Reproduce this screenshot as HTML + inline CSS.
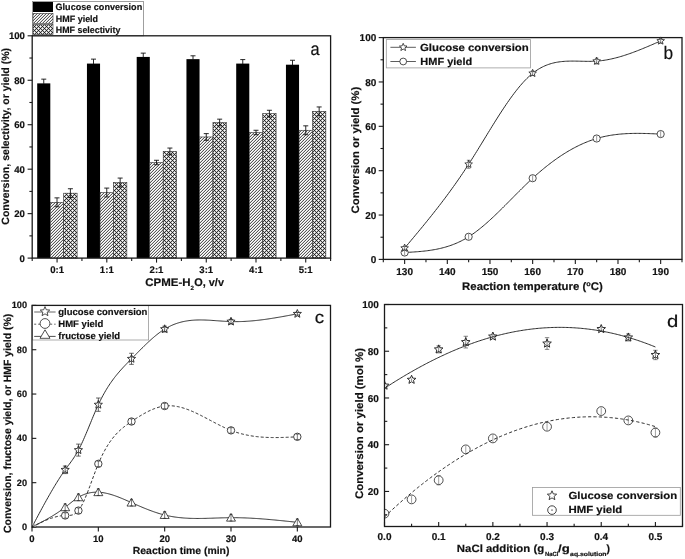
<!DOCTYPE html>
<html><head><meta charset="utf-8"><style>
html,body{margin:0;padding:0;background:#fff;}
svg{display:block;font-family:"Liberation Sans", sans-serif;text-rendering:geometricPrecision;will-change:transform;}
text{fill:#111;stroke:#111;stroke-width:0.18px;}
</style></head><body>
<svg width="685" height="559" viewBox="0 0 685 559">
<defs>
<pattern id="hatch" patternUnits="userSpaceOnUse" width="3" height="3">
<rect width="3" height="3" fill="#fff"/>
<rect x="2" y="0" width="1" height="1" fill="#585858"/><rect x="1" y="1" width="1" height="1" fill="#585858"/><rect x="0" y="2" width="1" height="1" fill="#585858"/>
<rect x="1" y="0" width="1" height="1" fill="#d6d6d6"/><rect x="0" y="1" width="1" height="1" fill="#d6d6d6"/><rect x="2" y="2" width="1" height="1" fill="#d6d6d6"/>
</pattern>
<pattern id="xhatch" patternUnits="userSpaceOnUse" width="4" height="4">
<rect width="4" height="4" fill="#fff"/>
<rect x="0" y="0" width="1" height="1" fill="#1a1a1a"/><rect x="2" y="2" width="1" height="1" fill="#1a1a1a"/>
<rect x="1" y="1" width="1" height="1" fill="#404040"/><rect x="3" y="1" width="1" height="1" fill="#404040"/><rect x="1" y="3" width="1" height="1" fill="#404040"/><rect x="3" y="3" width="1" height="1" fill="#404040"/>
<rect x="1" y="0" width="1" height="1" fill="#c8c8c8"/><rect x="3" y="0" width="1" height="1" fill="#c8c8c8"/><rect x="0" y="1" width="1" height="1" fill="#c8c8c8"/><rect x="0" y="3" width="1" height="1" fill="#c8c8c8"/>
<rect x="1" y="2" width="1" height="1" fill="#c8c8c8"/><rect x="3" y="2" width="1" height="1" fill="#c8c8c8"/><rect x="2" y="1" width="1" height="1" fill="#c8c8c8"/><rect x="2" y="3" width="1" height="1" fill="#c8c8c8"/>
</pattern>
</defs>
<rect width="685" height="559" fill="#fff"/>
<rect x="32.5" y="1.5" width="111" height="34.3" fill="#fff" stroke="#888" stroke-width="0.8"/>
<rect x="37.2" y="83.37" width="13.1" height="174.73" fill="#000"/>
<rect x="50.3" y="202.3" width="13.4" height="55.8" fill="url(#hatch)" stroke="#333" stroke-width="0.6"/>
<rect x="63.7" y="193.19" width="13.4" height="64.91" fill="url(#xhatch)" stroke="#333" stroke-width="0.6"/>
<line x1="43.75" y1="79.15" x2="43.75" y2="83.87" stroke="#111" stroke-width="0.9" />
<line x1="41.25" y1="79.15" x2="46.25" y2="79.15" stroke="#111" stroke-width="0.9" />
<line x1="57" y1="197.86" x2="57" y2="206.75" stroke="#111" stroke-width="0.9" />
<line x1="54.5" y1="197.86" x2="59.5" y2="197.86" stroke="#111" stroke-width="0.9" />
<line x1="54.5" y1="206.75" x2="59.5" y2="206.75" stroke="#111" stroke-width="0.9" />
<line x1="70.4" y1="188.74" x2="70.4" y2="197.63" stroke="#111" stroke-width="0.9" />
<line x1="67.9" y1="188.74" x2="72.9" y2="188.74" stroke="#111" stroke-width="0.9" />
<line x1="67.9" y1="197.63" x2="72.9" y2="197.63" stroke="#111" stroke-width="0.9" />
<rect x="86.95" y="63.59" width="13.1" height="194.51" fill="#000"/>
<rect x="100.05" y="192.52" width="13.4" height="65.58" fill="url(#hatch)" stroke="#333" stroke-width="0.6"/>
<rect x="113.45" y="182.52" width="13.4" height="75.58" fill="url(#xhatch)" stroke="#333" stroke-width="0.6"/>
<line x1="93.5" y1="59.14" x2="93.5" y2="64.09" stroke="#111" stroke-width="0.9" />
<line x1="91" y1="59.14" x2="96" y2="59.14" stroke="#111" stroke-width="0.9" />
<line x1="106.75" y1="188.08" x2="106.75" y2="196.97" stroke="#111" stroke-width="0.9" />
<line x1="104.25" y1="188.08" x2="109.25" y2="188.08" stroke="#111" stroke-width="0.9" />
<line x1="104.25" y1="196.97" x2="109.25" y2="196.97" stroke="#111" stroke-width="0.9" />
<line x1="120.15" y1="178.07" x2="120.15" y2="186.96" stroke="#111" stroke-width="0.9" />
<line x1="117.65" y1="178.07" x2="122.65" y2="178.07" stroke="#111" stroke-width="0.9" />
<line x1="117.65" y1="186.96" x2="122.65" y2="186.96" stroke="#111" stroke-width="0.9" />
<rect x="136.7" y="56.92" width="13.1" height="201.18" fill="#000"/>
<rect x="149.8" y="162.51" width="13.4" height="95.59" fill="url(#hatch)" stroke="#333" stroke-width="0.6"/>
<rect x="163.2" y="151.4" width="13.4" height="106.7" fill="url(#xhatch)" stroke="#333" stroke-width="0.6"/>
<line x1="143.25" y1="53.14" x2="143.25" y2="57.42" stroke="#111" stroke-width="0.9" />
<line x1="140.75" y1="53.14" x2="145.75" y2="53.14" stroke="#111" stroke-width="0.9" />
<line x1="156.5" y1="160.29" x2="156.5" y2="164.73" stroke="#111" stroke-width="0.9" />
<line x1="154" y1="160.29" x2="159" y2="160.29" stroke="#111" stroke-width="0.9" />
<line x1="154" y1="164.73" x2="159" y2="164.73" stroke="#111" stroke-width="0.9" />
<line x1="169.9" y1="148.06" x2="169.9" y2="154.73" stroke="#111" stroke-width="0.9" />
<line x1="167.4" y1="148.06" x2="172.4" y2="148.06" stroke="#111" stroke-width="0.9" />
<line x1="167.4" y1="154.73" x2="172.4" y2="154.73" stroke="#111" stroke-width="0.9" />
<rect x="186.45" y="59.14" width="13.1" height="198.96" fill="#000"/>
<rect x="199.55" y="136.95" width="13.4" height="121.15" fill="url(#hatch)" stroke="#333" stroke-width="0.6"/>
<rect x="212.95" y="122.5" width="13.4" height="135.6" fill="url(#xhatch)" stroke="#333" stroke-width="0.6"/>
<line x1="193" y1="55.81" x2="193" y2="59.64" stroke="#111" stroke-width="0.9" />
<line x1="190.5" y1="55.81" x2="195.5" y2="55.81" stroke="#111" stroke-width="0.9" />
<line x1="206.25" y1="133.61" x2="206.25" y2="140.28" stroke="#111" stroke-width="0.9" />
<line x1="203.75" y1="133.61" x2="208.75" y2="133.61" stroke="#111" stroke-width="0.9" />
<line x1="203.75" y1="140.28" x2="208.75" y2="140.28" stroke="#111" stroke-width="0.9" />
<line x1="219.65" y1="119.16" x2="219.65" y2="125.83" stroke="#111" stroke-width="0.9" />
<line x1="217.15" y1="119.16" x2="222.15" y2="119.16" stroke="#111" stroke-width="0.9" />
<line x1="217.15" y1="125.83" x2="222.15" y2="125.83" stroke="#111" stroke-width="0.9" />
<rect x="236.2" y="63.59" width="13.1" height="194.51" fill="#000"/>
<rect x="249.3" y="132.5" width="13.4" height="125.6" fill="url(#hatch)" stroke="#333" stroke-width="0.6"/>
<rect x="262.7" y="113.61" width="13.4" height="144.5" fill="url(#xhatch)" stroke="#333" stroke-width="0.6"/>
<line x1="242.75" y1="59.59" x2="242.75" y2="64.09" stroke="#111" stroke-width="0.9" />
<line x1="240.25" y1="59.59" x2="245.25" y2="59.59" stroke="#111" stroke-width="0.9" />
<line x1="256" y1="130.28" x2="256" y2="134.72" stroke="#111" stroke-width="0.9" />
<line x1="253.5" y1="130.28" x2="258.5" y2="130.28" stroke="#111" stroke-width="0.9" />
<line x1="253.5" y1="134.72" x2="258.5" y2="134.72" stroke="#111" stroke-width="0.9" />
<line x1="269.4" y1="110.27" x2="269.4" y2="116.94" stroke="#111" stroke-width="0.9" />
<line x1="266.9" y1="110.27" x2="271.9" y2="110.27" stroke="#111" stroke-width="0.9" />
<line x1="266.9" y1="116.94" x2="271.9" y2="116.94" stroke="#111" stroke-width="0.9" />
<rect x="285.95" y="64.7" width="13.1" height="193.4" fill="#000"/>
<rect x="299.05" y="130.28" width="13.4" height="127.82" fill="url(#hatch)" stroke="#333" stroke-width="0.6"/>
<rect x="312.45" y="111.38" width="13.4" height="146.72" fill="url(#xhatch)" stroke="#333" stroke-width="0.6"/>
<line x1="292.5" y1="60.25" x2="292.5" y2="65.2" stroke="#111" stroke-width="0.9" />
<line x1="290" y1="60.25" x2="295" y2="60.25" stroke="#111" stroke-width="0.9" />
<line x1="305.75" y1="125.83" x2="305.75" y2="134.72" stroke="#111" stroke-width="0.9" />
<line x1="303.25" y1="125.83" x2="308.25" y2="125.83" stroke="#111" stroke-width="0.9" />
<line x1="303.25" y1="134.72" x2="308.25" y2="134.72" stroke="#111" stroke-width="0.9" />
<line x1="319.15" y1="106.94" x2="319.15" y2="115.83" stroke="#111" stroke-width="0.9" />
<line x1="316.65" y1="106.94" x2="321.65" y2="106.94" stroke="#111" stroke-width="0.9" />
<line x1="316.65" y1="115.83" x2="321.65" y2="115.83" stroke="#111" stroke-width="0.9" />
<rect x="32.2" y="35.8" width="298.40000000000003" height="222.3" fill="none" stroke="#1a1a1a" stroke-width="1.3"/>
<line x1="27.6" y1="258.1" x2="32.2" y2="258.1" stroke="#1a1a1a" stroke-width="1.1" />
<text x="24.9" y="261.5" font-size="9.6" font-weight="bold" text-anchor="end" >0</text>
<line x1="29.4" y1="235.87" x2="32.2" y2="235.87" stroke="#1a1a1a" stroke-width="1.1" />
<line x1="27.6" y1="213.64" x2="32.2" y2="213.64" stroke="#1a1a1a" stroke-width="1.1" />
<text x="24.9" y="217.04" font-size="9.6" font-weight="bold" text-anchor="end" >20</text>
<line x1="29.4" y1="191.41" x2="32.2" y2="191.41" stroke="#1a1a1a" stroke-width="1.1" />
<line x1="27.6" y1="169.18" x2="32.2" y2="169.18" stroke="#1a1a1a" stroke-width="1.1" />
<text x="24.9" y="172.58" font-size="9.6" font-weight="bold" text-anchor="end" >40</text>
<line x1="29.4" y1="146.95" x2="32.2" y2="146.95" stroke="#1a1a1a" stroke-width="1.1" />
<line x1="27.6" y1="124.72" x2="32.2" y2="124.72" stroke="#1a1a1a" stroke-width="1.1" />
<text x="24.9" y="128.12" font-size="9.6" font-weight="bold" text-anchor="end" >60</text>
<line x1="29.4" y1="102.49" x2="32.2" y2="102.49" stroke="#1a1a1a" stroke-width="1.1" />
<line x1="27.6" y1="80.26" x2="32.2" y2="80.26" stroke="#1a1a1a" stroke-width="1.1" />
<text x="24.9" y="83.66" font-size="9.6" font-weight="bold" text-anchor="end" >80</text>
<line x1="29.4" y1="58.03" x2="32.2" y2="58.03" stroke="#1a1a1a" stroke-width="1.1" />
<line x1="27.6" y1="35.8" x2="32.2" y2="35.8" stroke="#1a1a1a" stroke-width="1.1" />
<text x="24.9" y="39.2" font-size="9.6" font-weight="bold" text-anchor="end" >100</text>
<line x1="32.2" y1="258.1" x2="32.2" y2="260.9" stroke="#1a1a1a" stroke-width="1.1" />
<line x1="81.93" y1="258.1" x2="81.93" y2="260.9" stroke="#1a1a1a" stroke-width="1.1" />
<line x1="131.67" y1="258.1" x2="131.67" y2="260.9" stroke="#1a1a1a" stroke-width="1.1" />
<line x1="181.4" y1="258.1" x2="181.4" y2="260.9" stroke="#1a1a1a" stroke-width="1.1" />
<line x1="231.13" y1="258.1" x2="231.13" y2="260.9" stroke="#1a1a1a" stroke-width="1.1" />
<line x1="280.87" y1="258.1" x2="280.87" y2="260.9" stroke="#1a1a1a" stroke-width="1.1" />
<line x1="330.6" y1="258.1" x2="330.6" y2="260.9" stroke="#1a1a1a" stroke-width="1.1" />
<line x1="57.07" y1="258.1" x2="57.07" y2="262.6" stroke="#1a1a1a" stroke-width="1.1" />
<text x="57.07" y="272.9" font-size="9.6" font-weight="bold" text-anchor="middle" >0:1</text>
<line x1="106.8" y1="258.1" x2="106.8" y2="262.6" stroke="#1a1a1a" stroke-width="1.1" />
<text x="106.8" y="272.9" font-size="9.6" font-weight="bold" text-anchor="middle" >1:1</text>
<line x1="156.53" y1="258.1" x2="156.53" y2="262.6" stroke="#1a1a1a" stroke-width="1.1" />
<text x="156.53" y="272.9" font-size="9.6" font-weight="bold" text-anchor="middle" >2:1</text>
<line x1="206.27" y1="258.1" x2="206.27" y2="262.6" stroke="#1a1a1a" stroke-width="1.1" />
<text x="206.27" y="272.9" font-size="9.6" font-weight="bold" text-anchor="middle" >3:1</text>
<line x1="256" y1="258.1" x2="256" y2="262.6" stroke="#1a1a1a" stroke-width="1.1" />
<text x="256" y="272.9" font-size="9.6" font-weight="bold" text-anchor="middle" >4:1</text>
<line x1="305.73" y1="258.1" x2="305.73" y2="262.6" stroke="#1a1a1a" stroke-width="1.1" />
<text x="305.73" y="272.9" font-size="9.6" font-weight="bold" text-anchor="middle" >5:1</text>
<text id="t1" transform="translate(145.26,285.7) scale(1.0424,1)" font-size="11" font-weight="bold" fill="#111">CPME-H</text>
<text id="t2" transform="translate(190.6,289.7) scale(1.0000,1)" font-size="6.2" font-weight="bold" fill="#111">2</text>
<text id="t3" transform="translate(194.27,285.7) scale(0.9906,1)" font-size="11" font-weight="bold" fill="#111">O, v/v</text>
<text id="t4" transform="translate(9.4,224.72) rotate(-90) scale(1.0046,1)" font-size="10.5" font-weight="bold" fill="#111">Conversion, selectivity, or yield (%)</text>
<text id="t5" transform="translate(310.41,55) scale(0.9073,1)" font-size="18" font-weight="normal" fill="#111">a</text>
<rect x="33" y="2" width="20" height="10" fill="#000"/>
<rect x="33" y="13.3" width="20" height="10" fill="url(#hatch)" stroke="#333" stroke-width="0.6"/>
<rect x="33" y="24.6" width="20" height="10" fill="url(#xhatch)" stroke="#333" stroke-width="0.6"/>
<text id="t6" transform="translate(55.53,10.2) scale(0.9868,1)" font-size="9.2" font-weight="bold" fill="#111">Glucose conversion</text>
<text id="t7" transform="translate(55.83,21.6) scale(0.9734,1)" font-size="9.2" font-weight="bold" fill="#111">HMF yield</text>
<text id="t8" transform="translate(55.83,32.6) scale(0.9639,1)" font-size="9.2" font-weight="bold" fill="#111">HMF selectivity</text>
<rect x="383.3" y="37.6" width="298.7" height="221.8" fill="none" stroke="#1a1a1a" stroke-width="1.3"/>
<line x1="378.7" y1="259.4" x2="383.3" y2="259.4" stroke="#1a1a1a" stroke-width="1.1" />
<text x="376.3" y="263.2" font-size="10" font-weight="bold" text-anchor="end" >0</text>
<line x1="380.5" y1="237.22" x2="383.3" y2="237.22" stroke="#1a1a1a" stroke-width="1.1" />
<line x1="378.7" y1="215.04" x2="383.3" y2="215.04" stroke="#1a1a1a" stroke-width="1.1" />
<text x="376.3" y="218.84" font-size="10" font-weight="bold" text-anchor="end" >20</text>
<line x1="380.5" y1="192.86" x2="383.3" y2="192.86" stroke="#1a1a1a" stroke-width="1.1" />
<line x1="378.7" y1="170.68" x2="383.3" y2="170.68" stroke="#1a1a1a" stroke-width="1.1" />
<text x="376.3" y="174.48" font-size="10" font-weight="bold" text-anchor="end" >40</text>
<line x1="380.5" y1="148.5" x2="383.3" y2="148.5" stroke="#1a1a1a" stroke-width="1.1" />
<line x1="378.7" y1="126.32" x2="383.3" y2="126.32" stroke="#1a1a1a" stroke-width="1.1" />
<text x="376.3" y="130.12" font-size="10" font-weight="bold" text-anchor="end" >60</text>
<line x1="380.5" y1="104.14" x2="383.3" y2="104.14" stroke="#1a1a1a" stroke-width="1.1" />
<line x1="378.7" y1="81.96" x2="383.3" y2="81.96" stroke="#1a1a1a" stroke-width="1.1" />
<text x="376.3" y="85.76" font-size="10" font-weight="bold" text-anchor="end" >80</text>
<line x1="380.5" y1="59.78" x2="383.3" y2="59.78" stroke="#1a1a1a" stroke-width="1.1" />
<line x1="378.7" y1="37.6" x2="383.3" y2="37.6" stroke="#1a1a1a" stroke-width="1.1" />
<text x="376.3" y="41.4" font-size="10" font-weight="bold" text-anchor="end" >100</text>
<line x1="383.3" y1="259.4" x2="383.3" y2="262.2" stroke="#1a1a1a" stroke-width="1.1" />
<line x1="404.64" y1="259.4" x2="404.64" y2="263.9" stroke="#1a1a1a" stroke-width="1.1" />
<text x="404.64" y="274.8" font-size="10" font-weight="bold" text-anchor="middle" >130</text>
<line x1="425.97" y1="259.4" x2="425.97" y2="262.2" stroke="#1a1a1a" stroke-width="1.1" />
<line x1="447.31" y1="259.4" x2="447.31" y2="263.9" stroke="#1a1a1a" stroke-width="1.1" />
<text x="447.31" y="274.8" font-size="10" font-weight="bold" text-anchor="middle" >140</text>
<line x1="468.64" y1="259.4" x2="468.64" y2="262.2" stroke="#1a1a1a" stroke-width="1.1" />
<line x1="489.98" y1="259.4" x2="489.98" y2="263.9" stroke="#1a1a1a" stroke-width="1.1" />
<text x="489.98" y="274.8" font-size="10" font-weight="bold" text-anchor="middle" >150</text>
<line x1="511.31" y1="259.4" x2="511.31" y2="262.2" stroke="#1a1a1a" stroke-width="1.1" />
<line x1="532.65" y1="259.4" x2="532.65" y2="263.9" stroke="#1a1a1a" stroke-width="1.1" />
<text x="532.65" y="274.8" font-size="10" font-weight="bold" text-anchor="middle" >160</text>
<line x1="553.99" y1="259.4" x2="553.99" y2="262.2" stroke="#1a1a1a" stroke-width="1.1" />
<line x1="575.32" y1="259.4" x2="575.32" y2="263.9" stroke="#1a1a1a" stroke-width="1.1" />
<text x="575.32" y="274.8" font-size="10" font-weight="bold" text-anchor="middle" >170</text>
<line x1="596.66" y1="259.4" x2="596.66" y2="262.2" stroke="#1a1a1a" stroke-width="1.1" />
<line x1="617.99" y1="259.4" x2="617.99" y2="263.9" stroke="#1a1a1a" stroke-width="1.1" />
<text x="617.99" y="274.8" font-size="10" font-weight="bold" text-anchor="middle" >180</text>
<line x1="639.33" y1="259.4" x2="639.33" y2="262.2" stroke="#1a1a1a" stroke-width="1.1" />
<line x1="660.66" y1="259.4" x2="660.66" y2="263.9" stroke="#1a1a1a" stroke-width="1.1" />
<text x="660.66" y="274.8" font-size="10" font-weight="bold" text-anchor="middle" >190</text>
<line x1="682" y1="259.4" x2="682" y2="262.2" stroke="#1a1a1a" stroke-width="1.1" />
<text id="t9" transform="translate(462.06,290.3) scale(1.0364,1)" font-size="11" font-weight="bold" fill="#111">Reaction temperature (<tspan font-size="7" dy="-4">o</tspan><tspan dy="4">C)</tspan></text>
<text id="t10" transform="translate(359.4,213.44) rotate(-90) scale(1.0503,1)" font-size="10.8" font-weight="bold" fill="#111">Conversion or yield (%)</text>
<text id="t11" transform="translate(663.38,58.7) scale(0.9624,1)" font-size="18" font-weight="normal" fill="#111">b</text>
<path d="M404.64,248.09 L405.92,246.56 L407.21,245.03 L408.50,243.49 L409.78,241.96 L411.07,240.42 L412.36,238.89 L413.64,237.35 L414.93,235.81 L416.21,234.26 L417.50,232.71 L418.79,231.16 L420.07,229.61 L421.36,228.05 L422.65,226.48 L423.93,224.91 L425.22,223.34 L426.51,221.75 L427.79,220.17 L429.08,218.57 L430.37,216.97 L431.65,215.36 L432.94,213.74 L434.23,212.12 L435.51,210.48 L436.80,208.84 L438.09,207.18 L439.37,205.52 L440.66,203.85 L441.95,202.17 L443.23,200.47 L444.52,198.77 L445.81,197.05 L447.09,195.32 L448.38,193.58 L449.67,191.83 L450.95,190.06 L452.24,188.28 L453.53,186.49 L454.81,184.68 L456.10,182.86 L457.39,181.02 L458.67,179.17 L459.96,177.30 L461.25,175.41 L462.53,173.51 L463.82,171.60 L465.10,169.66 L466.39,167.71 L467.68,165.74 L468.96,163.75 L470.25,161.74 L471.54,159.72 L472.82,157.68 L474.11,155.63 L475.40,153.56 L476.68,151.49 L477.97,149.40 L479.26,147.31 L480.54,145.21 L481.83,143.11 L483.12,141.01 L484.40,138.90 L485.69,136.79 L486.98,134.69 L488.26,132.59 L489.55,130.49 L490.84,128.40 L492.12,126.31 L493.41,124.24 L494.70,122.18 L495.98,120.12 L497.27,118.09 L498.56,116.06 L499.84,114.06 L501.13,112.07 L502.42,110.10 L503.70,108.16 L504.99,106.23 L506.28,104.34 L507.56,102.46 L508.85,100.62 L510.13,98.80 L511.42,97.02 L512.71,95.26 L513.99,93.54 L515.28,91.86 L516.57,90.21 L517.85,88.60 L519.14,87.03 L520.43,85.50 L521.71,84.01 L523.00,82.57 L524.29,81.17 L525.57,79.82 L526.86,78.52 L528.15,77.27 L529.43,76.07 L530.72,74.92 L532.01,73.83 L533.29,72.80 L534.58,71.82 L535.87,70.90 L537.15,70.03 L538.44,69.21 L539.73,68.44 L541.01,67.72 L542.30,67.05 L543.59,66.43 L544.87,65.84 L546.16,65.30 L547.45,64.81 L548.73,64.35 L550.02,63.93 L551.31,63.54 L552.59,63.19 L553.88,62.87 L555.17,62.59 L556.45,62.34 L557.74,62.11 L559.02,61.91 L560.31,61.74 L561.60,61.59 L562.88,61.47 L564.17,61.36 L565.46,61.28 L566.74,61.21 L568.03,61.16 L569.32,61.13 L570.60,61.10 L571.89,61.09 L573.18,61.09 L574.46,61.10 L575.75,61.12 L577.04,61.14 L578.32,61.17 L579.61,61.20 L580.90,61.23 L582.18,61.26 L583.47,61.29 L584.76,61.31 L586.04,61.33 L587.33,61.35 L588.62,61.35 L589.90,61.35 L591.19,61.33 L592.48,61.31 L593.76,61.26 L595.05,61.21 L596.34,61.13 L597.62,61.04 L598.91,60.93 L600.20,60.80 L601.48,60.65 L602.77,60.48 L604.05,60.30 L605.34,60.10 L606.63,59.88 L607.91,59.65 L609.20,59.40 L610.49,59.13 L611.77,58.85 L613.06,58.56 L614.35,58.25 L615.63,57.93 L616.92,57.59 L618.21,57.25 L619.49,56.88 L620.78,56.51 L622.07,56.13 L623.35,55.73 L624.64,55.32 L625.93,54.90 L627.21,54.47 L628.50,54.03 L629.79,53.58 L631.07,53.13 L632.36,52.66 L633.65,52.18 L634.93,51.70 L636.22,51.21 L637.51,50.71 L638.79,50.21 L640.08,49.69 L641.37,49.18 L642.65,48.65 L643.94,48.12 L645.23,47.59 L646.51,47.05 L647.80,46.51 L649.09,45.96 L650.37,45.41 L651.66,44.86 L652.94,44.30 L654.23,43.74 L655.52,43.18 L656.80,42.62 L658.09,42.06 L659.38,41.49 L660.66,40.93" fill="none" stroke="#2a2a2a" stroke-width="1.0"/>
<path d="M404.64,252.52 L405.92,252.45 L407.21,252.38 L408.50,252.31 L409.78,252.23 L411.07,252.15 L412.36,252.07 L413.64,251.99 L414.93,251.90 L416.21,251.81 L417.50,251.71 L418.79,251.60 L420.07,251.49 L421.36,251.38 L422.65,251.25 L423.93,251.12 L425.22,250.97 L426.51,250.82 L427.79,250.66 L429.08,250.48 L430.37,250.30 L431.65,250.10 L432.94,249.89 L434.23,249.67 L435.51,249.44 L436.80,249.19 L438.09,248.92 L439.37,248.64 L440.66,248.35 L441.95,248.03 L443.23,247.70 L444.52,247.36 L445.81,246.99 L447.09,246.60 L448.38,246.20 L449.67,245.77 L450.95,245.33 L452.24,244.86 L453.53,244.37 L454.81,243.86 L456.10,243.33 L457.39,242.77 L458.67,242.18 L459.96,241.58 L461.25,240.94 L462.53,240.28 L463.82,239.60 L465.10,238.88 L466.39,238.14 L467.68,237.37 L468.96,236.57 L470.25,235.75 L471.54,234.89 L472.82,234.00 L474.11,233.09 L475.40,232.16 L476.68,231.20 L477.97,230.21 L479.26,229.20 L480.54,228.17 L481.83,227.12 L483.12,226.05 L484.40,224.95 L485.69,223.84 L486.98,222.71 L488.26,221.57 L489.55,220.41 L490.84,219.23 L492.12,218.04 L493.41,216.83 L494.70,215.61 L495.98,214.39 L497.27,213.15 L498.56,211.90 L499.84,210.64 L501.13,209.37 L502.42,208.10 L503.70,206.81 L504.99,205.53 L506.28,204.24 L507.56,202.94 L508.85,201.65 L510.13,200.35 L511.42,199.05 L512.71,197.75 L513.99,196.45 L515.28,195.15 L516.57,193.85 L517.85,192.56 L519.14,191.27 L520.43,189.99 L521.71,188.71 L523.00,187.44 L524.29,186.18 L525.57,184.92 L526.86,183.68 L528.15,182.45 L529.43,181.22 L530.72,180.01 L532.01,178.81 L533.29,177.63 L534.58,176.46 L535.87,175.31 L537.15,174.17 L538.44,173.04 L539.73,171.93 L541.01,170.83 L542.30,169.75 L543.59,168.69 L544.87,167.63 L546.16,166.60 L547.45,165.58 L548.73,164.57 L550.02,163.58 L551.31,162.60 L552.59,161.64 L553.88,160.70 L555.17,159.77 L556.45,158.85 L557.74,157.96 L559.02,157.07 L560.31,156.21 L561.60,155.35 L562.88,154.52 L564.17,153.70 L565.46,152.90 L566.74,152.11 L568.03,151.34 L569.32,150.59 L570.60,149.85 L571.89,149.12 L573.18,148.42 L574.46,147.73 L575.75,147.06 L577.04,146.40 L578.32,145.76 L579.61,145.14 L580.90,144.54 L582.18,143.95 L583.47,143.38 L584.76,142.82 L586.04,142.29 L587.33,141.77 L588.62,141.26 L589.90,140.78 L591.19,140.31 L592.48,139.86 L593.76,139.43 L595.05,139.01 L596.34,138.62 L597.62,138.24 L598.91,137.87 L600.20,137.53 L601.48,137.20 L602.77,136.89 L604.05,136.59 L605.34,136.31 L606.63,136.05 L607.91,135.80 L609.20,135.56 L610.49,135.34 L611.77,135.14 L613.06,134.94 L614.35,134.76 L615.63,134.60 L616.92,134.44 L618.21,134.30 L619.49,134.17 L620.78,134.05 L622.07,133.94 L623.35,133.85 L624.64,133.76 L625.93,133.68 L627.21,133.61 L628.50,133.56 L629.79,133.51 L631.07,133.47 L632.36,133.44 L633.65,133.41 L634.93,133.39 L636.22,133.38 L637.51,133.38 L638.79,133.38 L640.08,133.39 L641.37,133.41 L642.65,133.43 L643.94,133.46 L645.23,133.49 L646.51,133.52 L647.80,133.56 L649.09,133.60 L650.37,133.65 L651.66,133.70 L652.94,133.75 L654.23,133.80 L655.52,133.85 L656.80,133.91 L658.09,133.97 L659.38,134.02 L660.66,134.08" fill="none" stroke="#2a2a2a" stroke-width="1.0"/>
<circle cx="404.64" cy="252.52" r="3.6" fill="#fff" stroke="#222" stroke-width="0.8"/>
<line x1="404.64" y1="249.64" x2="404.64" y2="255.41" stroke="#555" stroke-width="0.6" />
<circle cx="468.64" cy="236.78" r="3.6" fill="#fff" stroke="#222" stroke-width="0.8"/>
<line x1="468.64" y1="233.89" x2="468.64" y2="239.66" stroke="#555" stroke-width="0.6" />
<circle cx="532.65" cy="178.22" r="3.6" fill="#fff" stroke="#222" stroke-width="0.8"/>
<line x1="532.65" y1="175.34" x2="532.65" y2="181.1" stroke="#555" stroke-width="0.6" />
<circle cx="596.66" cy="138.52" r="3.6" fill="#fff" stroke="#222" stroke-width="0.8"/>
<line x1="596.66" y1="135.64" x2="596.66" y2="141.4" stroke="#555" stroke-width="0.6" />
<circle cx="660.66" cy="134.08" r="3.6" fill="#fff" stroke="#222" stroke-width="0.8"/>
<line x1="660.66" y1="131.2" x2="660.66" y2="136.97" stroke="#555" stroke-width="0.6" />
<path d="M404.64,244.09 L405.69,246.63 L408.44,246.85 L406.35,248.64 L406.99,251.32 L404.64,249.89 L402.28,251.32 L402.92,248.64 L400.83,246.85 L403.58,246.63 Z" fill="#fff" stroke="#222" stroke-width="0.8" stroke-linejoin="miter"/>
<line x1="404.64" y1="246.31" x2="404.64" y2="249.86" stroke="#333" stroke-width="0.6" />
<line x1="402.84" y1="246.31" x2="406.44" y2="246.31" stroke="#333" stroke-width="0.6" />
<line x1="402.84" y1="249.86" x2="406.44" y2="249.86" stroke="#333" stroke-width="0.6" />
<path d="M468.64,160.25 L469.7,162.79 L472.45,163.01 L470.35,164.8 L470.99,167.48 L468.64,166.05 L466.29,167.48 L466.93,164.8 L464.84,163.01 L467.58,162.79 Z" fill="#fff" stroke="#222" stroke-width="0.8" stroke-linejoin="miter"/>
<line x1="468.64" y1="160.26" x2="468.64" y2="168.24" stroke="#333" stroke-width="0.6" />
<line x1="466.84" y1="160.26" x2="470.44" y2="160.26" stroke="#333" stroke-width="0.6" />
<line x1="466.84" y1="168.24" x2="470.44" y2="168.24" stroke="#333" stroke-width="0.6" />
<path d="M532.65,69.31 L533.71,71.85 L536.45,72.07 L534.36,73.87 L535,76.55 L532.65,75.11 L530.3,76.55 L530.94,73.87 L528.85,72.07 L531.59,71.85 Z" fill="#fff" stroke="#222" stroke-width="0.8" stroke-linejoin="miter"/>
<line x1="532.65" y1="71.09" x2="532.65" y2="75.53" stroke="#333" stroke-width="0.6" />
<line x1="530.85" y1="71.09" x2="534.45" y2="71.09" stroke="#333" stroke-width="0.6" />
<line x1="530.85" y1="75.53" x2="534.45" y2="75.53" stroke="#333" stroke-width="0.6" />
<path d="M596.66,57.11 L597.72,59.65 L600.46,59.87 L598.37,61.67 L599.01,64.35 L596.66,62.91 L594.31,64.35 L594.95,61.67 L592.85,59.87 L595.6,59.65 Z" fill="#fff" stroke="#222" stroke-width="0.8" stroke-linejoin="miter"/>
<line x1="596.66" y1="58.23" x2="596.66" y2="63.99" stroke="#333" stroke-width="0.6" />
<line x1="594.86" y1="58.23" x2="598.46" y2="58.23" stroke="#333" stroke-width="0.6" />
<line x1="594.86" y1="63.99" x2="598.46" y2="63.99" stroke="#333" stroke-width="0.6" />
<path d="M660.66,36.93 L661.72,39.47 L664.47,39.69 L662.38,41.48 L663.02,44.16 L660.66,42.73 L658.31,44.16 L658.95,41.48 L656.86,39.69 L659.61,39.47 Z" fill="#fff" stroke="#222" stroke-width="0.8" stroke-linejoin="miter"/>
<line x1="660.66" y1="38.71" x2="660.66" y2="43.14" stroke="#333" stroke-width="0.6" />
<line x1="658.86" y1="38.71" x2="662.46" y2="38.71" stroke="#333" stroke-width="0.6" />
<line x1="658.86" y1="43.14" x2="662.46" y2="43.14" stroke="#333" stroke-width="0.6" />
<rect x="386.3" y="39.6" width="144.2" height="28.3" fill="#fff" stroke="#999" stroke-width="0.8"/>
<line x1="390.4" y1="47.3" x2="415.9" y2="47.3" stroke="#333" stroke-width="0.8" />
<path d="M403.2,43.3 L404.26,45.84 L407,46.06 L404.91,47.86 L405.55,50.54 L403.2,49.1 L400.85,50.54 L401.49,47.86 L399.4,46.06 L402.14,45.84 Z" fill="#fff" stroke="#222" stroke-width="0.8" stroke-linejoin="miter"/>
<line x1="390.4" y1="61.5" x2="415.9" y2="61.5" stroke="#333" stroke-width="0.8" />
<circle cx="403.2" cy="61.5" r="3.4" fill="#fff" stroke="#222" stroke-width="0.8"/>
<text id="t12" transform="translate(419.96,51) scale(1.1051,1)" font-size="10.3" font-weight="bold" fill="#111">Glucose conversion</text>
<text id="t13" transform="translate(420.37,64.7) scale(1.0662,1)" font-size="10.3" font-weight="bold" fill="#111">HMF yield</text>
<rect x="32.6" y="305.4" width="116" height="34.6" fill="#fff" stroke="#999" stroke-width="0.8"/>
<rect x="32" y="305.4" width="298.5" height="221.6" fill="none" stroke="#1a1a1a" stroke-width="1.3"/>
<line x1="32" y1="527" x2="36.3" y2="527" stroke="#1a1a1a" stroke-width="1.1" />
<text x="27" y="529.9" font-size="9.2" font-weight="bold" text-anchor="end" >0</text>
<line x1="32" y1="482.68" x2="36.3" y2="482.68" stroke="#1a1a1a" stroke-width="1.1" />
<text x="27" y="485.58" font-size="9.2" font-weight="bold" text-anchor="end" >20</text>
<line x1="32" y1="438.36" x2="36.3" y2="438.36" stroke="#1a1a1a" stroke-width="1.1" />
<text x="27" y="441.26" font-size="9.2" font-weight="bold" text-anchor="end" >40</text>
<line x1="32" y1="394.04" x2="36.3" y2="394.04" stroke="#1a1a1a" stroke-width="1.1" />
<text x="27" y="396.94" font-size="9.2" font-weight="bold" text-anchor="end" >60</text>
<line x1="32" y1="349.72" x2="36.3" y2="349.72" stroke="#1a1a1a" stroke-width="1.1" />
<text x="27" y="352.62" font-size="9.2" font-weight="bold" text-anchor="end" >80</text>
<line x1="32" y1="305.4" x2="36.3" y2="305.4" stroke="#1a1a1a" stroke-width="1.1" />
<text x="27" y="308.3" font-size="9.2" font-weight="bold" text-anchor="end" >100</text>
<line x1="32" y1="527" x2="32" y2="531.5" stroke="#1a1a1a" stroke-width="1.1" />
<text x="32" y="542.3" font-size="9.5" font-weight="bold" text-anchor="middle" >0</text>
<line x1="98.33" y1="527" x2="98.33" y2="531.5" stroke="#1a1a1a" stroke-width="1.1" />
<text x="98.33" y="542.3" font-size="9.5" font-weight="bold" text-anchor="middle" >10</text>
<line x1="164.67" y1="527" x2="164.67" y2="531.5" stroke="#1a1a1a" stroke-width="1.1" />
<text x="164.67" y="542.3" font-size="9.5" font-weight="bold" text-anchor="middle" >20</text>
<line x1="231" y1="527" x2="231" y2="531.5" stroke="#1a1a1a" stroke-width="1.1" />
<text x="231" y="542.3" font-size="9.5" font-weight="bold" text-anchor="middle" >30</text>
<line x1="297.33" y1="527" x2="297.33" y2="531.5" stroke="#1a1a1a" stroke-width="1.1" />
<text x="297.33" y="542.3" font-size="9.5" font-weight="bold" text-anchor="middle" >40</text>
<text id="t14" transform="translate(132.79,554.3) scale(1.0113,1)" font-size="10.3" font-weight="bold" fill="#111">Reaction time (min)</text>
<text id="t15" transform="translate(11.1,533.01) rotate(-90) scale(0.9972,1)" font-size="10.5" font-weight="bold" fill="#111">Conversion, fructose yield, or HMF yield (%)</text>
<text id="t16" transform="translate(314.64,322.9) scale(1.1028,1)" font-size="17" font-weight="normal" fill="#111">c</text>
<path d="M32.00,527.00 L32.89,525.33 L33.77,523.65 L34.66,521.98 L35.55,520.31 L36.44,518.64 L37.32,516.98 L38.21,515.32 L39.10,513.66 L39.99,512.01 L40.87,510.36 L41.76,508.72 L42.65,507.09 L43.54,505.46 L44.42,503.85 L45.31,502.24 L46.20,500.64 L47.09,499.05 L47.97,497.47 L48.86,495.90 L49.75,494.34 L50.64,492.80 L51.52,491.27 L52.41,489.75 L53.30,488.25 L54.19,486.76 L55.07,485.29 L55.96,483.83 L56.85,482.39 L57.73,480.97 L58.62,479.57 L59.51,478.18 L60.40,476.82 L61.28,475.47 L62.17,474.14 L63.06,472.84 L63.95,471.55 L64.83,470.29 L65.72,469.06 L66.61,467.84 L67.50,466.63 L68.38,465.43 L69.27,464.23 L70.16,463.01 L71.05,461.79 L71.93,460.54 L72.82,459.27 L73.71,457.95 L74.60,456.60 L75.48,455.20 L76.37,453.74 L77.26,452.22 L78.14,450.64 L79.03,448.97 L79.92,447.24 L80.81,445.43 L81.69,443.57 L82.58,441.64 L83.47,439.67 L84.36,437.65 L85.24,435.60 L86.13,433.51 L87.02,431.39 L87.91,429.26 L88.79,427.11 L89.68,424.95 L90.57,422.79 L91.46,420.63 L92.34,418.49 L93.23,416.35 L94.12,414.24 L95.01,412.15 L95.89,410.10 L96.78,408.09 L97.67,406.12 L98.56,404.20 L99.44,402.34 L100.33,400.53 L101.22,398.77 L102.10,397.06 L102.99,395.40 L103.88,393.79 L104.77,392.22 L105.65,390.70 L106.54,389.22 L107.43,387.78 L108.32,386.38 L109.20,385.02 L110.09,383.69 L110.98,382.40 L111.87,381.15 L112.75,379.92 L113.64,378.73 L114.53,377.56 L115.42,376.43 L116.30,375.31 L117.19,374.23 L118.08,373.16 L118.97,372.12 L119.85,371.10 L120.74,370.09 L121.63,369.11 L122.52,368.13 L123.40,367.17 L124.29,366.23 L125.18,365.29 L126.06,364.37 L126.95,363.45 L127.84,362.54 L128.73,361.63 L129.61,360.72 L130.50,359.82 L131.39,358.92 L132.28,358.01 L133.16,357.11 L134.05,356.20 L134.94,355.30 L135.83,354.40 L136.71,353.49 L137.60,352.59 L138.49,351.69 L139.38,350.80 L140.26,349.91 L141.15,349.02 L142.04,348.14 L142.93,347.26 L143.81,346.39 L144.70,345.52 L145.59,344.67 L146.47,343.82 L147.36,342.98 L148.25,342.14 L149.14,341.32 L150.02,340.51 L150.91,339.71 L151.80,338.92 L152.69,338.14 L153.57,337.38 L154.46,336.62 L155.35,335.89 L156.24,335.16 L157.12,334.45 L158.01,333.76 L158.90,333.08 L159.79,332.42 L160.67,331.78 L161.56,331.15 L162.45,330.54 L163.34,329.96 L164.22,329.39 L165.11,328.84 L166.00,328.31 L166.89,327.80 L167.77,327.32 L168.66,326.85 L169.55,326.40 L170.43,325.97 L171.32,325.55 L172.21,325.16 L173.10,324.78 L173.98,324.42 L174.87,324.08 L175.76,323.75 L176.65,323.44 L177.53,323.15 L178.42,322.87 L179.31,322.61 L180.20,322.36 L181.08,322.12 L181.97,321.90 L182.86,321.70 L183.75,321.51 L184.63,321.33 L185.52,321.16 L186.41,321.01 L187.30,320.86 L188.18,320.73 L189.07,320.61 L189.96,320.51 L190.85,320.41 L191.73,320.32 L192.62,320.25 L193.51,320.18 L194.39,320.12 L195.28,320.07 L196.17,320.03 L197.06,320.00 L197.94,319.98 L198.83,319.96 L199.72,319.95 L200.61,319.95 L201.49,319.96 L202.38,319.97 L203.27,319.99 L204.16,320.01 L205.04,320.04 L205.93,320.07 L206.82,320.11 L207.71,320.15 L208.59,320.19 L209.48,320.24 L210.37,320.29 L211.26,320.35 L212.14,320.41 L213.03,320.47 L213.92,320.53 L214.80,320.59 L215.69,320.65 L216.58,320.72 L217.47,320.78 L218.35,320.85 L219.24,320.91 L220.13,320.98 L221.02,321.04 L221.90,321.10 L222.79,321.16 L223.68,321.22 L224.57,321.28 L225.45,321.33 L226.34,321.38 L227.23,321.42 L228.12,321.47 L229.00,321.51 L229.89,321.54 L230.78,321.57 L231.67,321.59 L232.55,321.61 L233.44,321.63 L234.33,321.64 L235.22,321.64 L236.10,321.64 L236.99,321.64 L237.88,321.63 L238.76,321.61 L239.65,321.59 L240.54,321.57 L241.43,321.54 L242.31,321.51 L243.20,321.47 L244.09,321.43 L244.98,321.38 L245.86,321.33 L246.75,321.28 L247.64,321.22 L248.53,321.16 L249.41,321.10 L250.30,321.03 L251.19,320.95 L252.08,320.88 L252.96,320.80 L253.85,320.71 L254.74,320.63 L255.63,320.54 L256.51,320.44 L257.40,320.35 L258.29,320.25 L259.18,320.15 L260.06,320.04 L260.95,319.93 L261.84,319.82 L262.72,319.71 L263.61,319.59 L264.50,319.47 L265.39,319.35 L266.27,319.22 L267.16,319.09 L268.05,318.97 L268.94,318.83 L269.82,318.70 L270.71,318.56 L271.60,318.43 L272.49,318.28 L273.37,318.14 L274.26,318.00 L275.15,317.85 L276.04,317.70 L276.92,317.56 L277.81,317.40 L278.70,317.25 L279.59,317.10 L280.47,316.94 L281.36,316.79 L282.25,316.63 L283.13,316.47 L284.02,316.31 L284.91,316.15 L285.80,315.99 L286.68,315.82 L287.57,315.66 L288.46,315.49 L289.35,315.33 L290.23,315.16 L291.12,315.00 L292.01,314.83 L292.90,314.66 L293.78,314.49 L294.67,314.33 L295.56,314.16 L296.45,313.99 L297.33,313.82" fill="none" stroke="#222" stroke-width="0.95"/>
<path d="M32.00,527.00 L32.89,526.55 L33.77,526.10 L34.66,525.64 L35.55,525.20 L36.44,524.75 L37.32,524.31 L38.21,523.87 L39.10,523.43 L39.99,523.00 L40.87,522.58 L41.76,522.16 L42.65,521.75 L43.54,521.34 L44.42,520.95 L45.31,520.56 L46.20,520.18 L47.09,519.81 L47.97,519.45 L48.86,519.11 L49.75,518.77 L50.64,518.45 L51.52,518.14 L52.41,517.85 L53.30,517.56 L54.19,517.30 L55.07,517.05 L55.96,516.81 L56.85,516.59 L57.73,516.39 L58.62,516.21 L59.51,516.05 L60.40,515.90 L61.28,515.78 L62.17,515.67 L63.06,515.59 L63.95,515.53 L64.83,515.49 L65.72,515.47 L66.61,515.47 L67.50,515.47 L68.38,515.46 L69.27,515.42 L70.16,515.35 L71.05,515.23 L71.93,515.05 L72.82,514.79 L73.71,514.45 L74.60,514.00 L75.48,513.44 L76.37,512.76 L77.26,511.93 L78.14,510.95 L79.03,509.81 L79.92,508.51 L80.81,507.06 L81.69,505.46 L82.58,503.74 L83.47,501.90 L84.36,499.95 L85.24,497.91 L86.13,495.78 L87.02,493.58 L87.91,491.32 L88.79,489.00 L89.68,486.65 L90.57,484.26 L91.46,481.86 L92.34,479.45 L93.23,477.05 L94.12,474.66 L95.01,472.29 L95.89,469.96 L96.78,467.68 L97.67,465.46 L98.56,463.31 L99.44,461.24 L100.33,459.24 L101.22,457.32 L102.10,455.47 L102.99,453.69 L103.88,451.97 L104.77,450.32 L105.65,448.74 L106.54,447.22 L107.43,445.76 L108.32,444.35 L109.20,443.00 L110.09,441.71 L110.98,440.47 L111.87,439.27 L112.75,438.13 L113.64,437.03 L114.53,435.98 L115.42,434.96 L116.30,433.99 L117.19,433.05 L118.08,432.15 L118.97,431.29 L119.85,430.45 L120.74,429.65 L121.63,428.87 L122.52,428.12 L123.40,427.40 L124.29,426.69 L125.18,426.00 L126.06,425.34 L126.95,424.69 L127.84,424.05 L128.73,423.42 L129.61,422.81 L130.50,422.20 L131.39,421.59 L132.28,420.99 L133.16,420.40 L134.05,419.81 L134.94,419.22 L135.83,418.64 L136.71,418.07 L137.60,417.50 L138.49,416.94 L139.38,416.39 L140.26,415.84 L141.15,415.31 L142.04,414.78 L142.93,414.26 L143.81,413.76 L144.70,413.26 L145.59,412.77 L146.47,412.30 L147.36,411.84 L148.25,411.39 L149.14,410.95 L150.02,410.53 L150.91,410.12 L151.80,409.73 L152.69,409.35 L153.57,408.99 L154.46,408.64 L155.35,408.31 L156.24,408.00 L157.12,407.71 L158.01,407.43 L158.90,407.18 L159.79,406.94 L160.67,406.72 L161.56,406.53 L162.45,406.35 L163.34,406.20 L164.22,406.06 L165.11,405.95 L166.00,405.87 L166.89,405.80 L167.77,405.76 L168.66,405.74 L169.55,405.73 L170.43,405.75 L171.32,405.79 L172.21,405.85 L173.10,405.93 L173.98,406.02 L174.87,406.13 L175.76,406.27 L176.65,406.41 L177.53,406.58 L178.42,406.76 L179.31,406.96 L180.20,407.17 L181.08,407.40 L181.97,407.64 L182.86,407.90 L183.75,408.17 L184.63,408.45 L185.52,408.74 L186.41,409.05 L187.30,409.37 L188.18,409.70 L189.07,410.05 L189.96,410.40 L190.85,410.76 L191.73,411.13 L192.62,411.51 L193.51,411.91 L194.39,412.30 L195.28,412.71 L196.17,413.12 L197.06,413.55 L197.94,413.97 L198.83,414.41 L199.72,414.84 L200.61,415.29 L201.49,415.74 L202.38,416.19 L203.27,416.65 L204.16,417.11 L205.04,417.57 L205.93,418.04 L206.82,418.51 L207.71,418.98 L208.59,419.45 L209.48,419.92 L210.37,420.39 L211.26,420.86 L212.14,421.33 L213.03,421.80 L213.92,422.27 L214.80,422.74 L215.69,423.20 L216.58,423.66 L217.47,424.12 L218.35,424.57 L219.24,425.02 L220.13,425.47 L221.02,425.91 L221.90,426.35 L222.79,426.77 L223.68,427.20 L224.57,427.61 L225.45,428.02 L226.34,428.42 L227.23,428.82 L228.12,429.20 L229.00,429.57 L229.89,429.94 L230.78,430.30 L231.67,430.64 L232.55,430.97 L233.44,431.30 L234.33,431.61 L235.22,431.92 L236.10,432.21 L236.99,432.50 L237.88,432.77 L238.76,433.04 L239.65,433.30 L240.54,433.54 L241.43,433.78 L242.31,434.01 L243.20,434.23 L244.09,434.44 L244.98,434.65 L245.86,434.84 L246.75,435.03 L247.64,435.21 L248.53,435.38 L249.41,435.55 L250.30,435.70 L251.19,435.85 L252.08,435.99 L252.96,436.13 L253.85,436.25 L254.74,436.37 L255.63,436.49 L256.51,436.59 L257.40,436.70 L258.29,436.79 L259.18,436.88 L260.06,436.96 L260.95,437.04 L261.84,437.11 L262.72,437.17 L263.61,437.23 L264.50,437.28 L265.39,437.33 L266.27,437.38 L267.16,437.42 L268.05,437.45 L268.94,437.48 L269.82,437.50 L270.71,437.52 L271.60,437.54 L272.49,437.55 L273.37,437.56 L274.26,437.56 L275.15,437.57 L276.04,437.56 L276.92,437.56 L277.81,437.55 L278.70,437.54 L279.59,437.52 L280.47,437.50 L281.36,437.48 L282.25,437.46 L283.13,437.43 L284.02,437.40 L284.91,437.37 L285.80,437.34 L286.68,437.31 L287.57,437.27 L288.46,437.23 L289.35,437.20 L290.23,437.16 L291.12,437.12 L292.01,437.07 L292.90,437.03 L293.78,436.99 L294.67,436.94 L295.56,436.90 L296.45,436.85 L297.33,436.81" fill="none" stroke="#222" stroke-width="0.95" stroke-dasharray="3,2"/>
<path d="M32.00,527.00 L32.89,526.55 L33.77,526.10 L34.66,525.65 L35.55,525.20 L36.44,524.75 L37.32,524.29 L38.21,523.83 L39.10,523.38 L39.99,522.91 L40.87,522.45 L41.76,521.98 L42.65,521.51 L43.54,521.03 L44.42,520.55 L45.31,520.07 L46.20,519.58 L47.09,519.08 L47.97,518.58 L48.86,518.08 L49.75,517.56 L50.64,517.04 L51.52,516.51 L52.41,515.98 L53.30,515.44 L54.19,514.89 L55.07,514.33 L55.96,513.76 L56.85,513.19 L57.73,512.60 L58.62,512.00 L59.51,511.40 L60.40,510.78 L61.28,510.15 L62.17,509.52 L63.06,508.87 L63.95,508.21 L64.83,507.53 L65.72,506.85 L66.61,506.15 L67.50,505.45 L68.38,504.74 L69.27,504.03 L70.16,503.32 L71.05,502.61 L71.93,501.92 L72.82,501.23 L73.71,500.55 L74.60,499.90 L75.48,499.26 L76.37,498.64 L77.26,498.05 L78.14,497.48 L79.03,496.95 L79.92,496.45 L80.81,495.98 L81.69,495.54 L82.58,495.12 L83.47,494.74 L84.36,494.39 L85.24,494.07 L86.13,493.77 L87.02,493.50 L87.91,493.26 L88.79,493.04 L89.68,492.85 L90.57,492.68 L91.46,492.54 L92.34,492.42 L93.23,492.33 L94.12,492.26 L95.01,492.21 L95.89,492.18 L96.78,492.17 L97.67,492.19 L98.56,492.22 L99.44,492.27 L100.33,492.34 L101.22,492.43 L102.10,492.54 L102.99,492.67 L103.88,492.81 L104.77,492.97 L105.65,493.14 L106.54,493.33 L107.43,493.53 L108.32,493.75 L109.20,493.98 L110.09,494.23 L110.98,494.48 L111.87,494.75 L112.75,495.03 L113.64,495.32 L114.53,495.62 L115.42,495.93 L116.30,496.25 L117.19,496.58 L118.08,496.92 L118.97,497.26 L119.85,497.61 L120.74,497.97 L121.63,498.33 L122.52,498.70 L123.40,499.08 L124.29,499.46 L125.18,499.84 L126.06,500.22 L126.95,500.61 L127.84,501.00 L128.73,501.39 L129.61,501.79 L130.50,502.18 L131.39,502.57 L132.28,502.97 L133.16,503.36 L134.05,503.75 L134.94,504.14 L135.83,504.53 L136.71,504.92 L137.60,505.30 L138.49,505.69 L139.38,506.07 L140.26,506.45 L141.15,506.82 L142.04,507.20 L142.93,507.57 L143.81,507.93 L144.70,508.30 L145.59,508.65 L146.47,509.01 L147.36,509.36 L148.25,509.71 L149.14,510.05 L150.02,510.38 L150.91,510.72 L151.80,511.04 L152.69,511.36 L153.57,511.68 L154.46,511.99 L155.35,512.29 L156.24,512.58 L157.12,512.87 L158.01,513.16 L158.90,513.43 L159.79,513.70 L160.67,513.96 L161.56,514.21 L162.45,514.46 L163.34,514.69 L164.22,514.92 L165.11,515.14 L166.00,515.35 L166.89,515.56 L167.77,515.75 L168.66,515.94 L169.55,516.11 L170.43,516.28 L171.32,516.45 L172.21,516.60 L173.10,516.75 L173.98,516.89 L174.87,517.02 L175.76,517.14 L176.65,517.26 L177.53,517.38 L178.42,517.48 L179.31,517.58 L180.20,517.67 L181.08,517.76 L181.97,517.84 L182.86,517.92 L183.75,517.99 L184.63,518.05 L185.52,518.11 L186.41,518.16 L187.30,518.21 L188.18,518.26 L189.07,518.30 L189.96,518.33 L190.85,518.36 L191.73,518.39 L192.62,518.41 L193.51,518.43 L194.39,518.44 L195.28,518.45 L196.17,518.46 L197.06,518.47 L197.94,518.47 L198.83,518.46 L199.72,518.46 L200.61,518.45 L201.49,518.44 L202.38,518.43 L203.27,518.42 L204.16,518.40 L205.04,518.38 L205.93,518.36 L206.82,518.34 L207.71,518.31 L208.59,518.29 L209.48,518.26 L210.37,518.24 L211.26,518.21 L212.14,518.18 L213.03,518.15 L213.92,518.12 L214.80,518.09 L215.69,518.06 L216.58,518.03 L217.47,518.00 L218.35,517.97 L219.24,517.95 L220.13,517.92 L221.02,517.89 L221.90,517.87 L222.79,517.84 L223.68,517.82 L224.57,517.79 L225.45,517.77 L226.34,517.76 L227.23,517.74 L228.12,517.72 L229.00,517.71 L229.89,517.70 L230.78,517.69 L231.67,517.69 L232.55,517.69 L233.44,517.69 L234.33,517.69 L235.22,517.70 L236.10,517.70 L236.99,517.72 L237.88,517.73 L238.76,517.74 L239.65,517.76 L240.54,517.78 L241.43,517.81 L242.31,517.83 L243.20,517.86 L244.09,517.89 L244.98,517.92 L245.86,517.95 L246.75,517.99 L247.64,518.03 L248.53,518.07 L249.41,518.11 L250.30,518.15 L251.19,518.20 L252.08,518.25 L252.96,518.30 L253.85,518.35 L254.74,518.40 L255.63,518.46 L256.51,518.51 L257.40,518.57 L258.29,518.63 L259.18,518.69 L260.06,518.76 L260.95,518.82 L261.84,518.89 L262.72,518.96 L263.61,519.03 L264.50,519.10 L265.39,519.17 L266.27,519.24 L267.16,519.32 L268.05,519.39 L268.94,519.47 L269.82,519.55 L270.71,519.63 L271.60,519.71 L272.49,519.79 L273.37,519.87 L274.26,519.95 L275.15,520.04 L276.04,520.12 L276.92,520.21 L277.81,520.30 L278.70,520.38 L279.59,520.47 L280.47,520.56 L281.36,520.65 L282.25,520.74 L283.13,520.83 L284.02,520.92 L284.91,521.02 L285.80,521.11 L286.68,521.20 L287.57,521.30 L288.46,521.39 L289.35,521.49 L290.23,521.58 L291.12,521.68 L292.01,521.77 L292.90,521.87 L293.78,521.96 L294.67,522.06 L295.56,522.15 L296.45,522.25 L297.33,522.35" fill="none" stroke="#222" stroke-width="0.95"/>
<clipPath id="clipc"><rect x="32" y="305.4" width="298.5" height="221.60000000000002"/></clipPath>
<g clip-path="url(#clipc)">
<path d="M32,522.79 L27.5,530.44 L36.5,530.44 Z" fill="none" stroke="#999" stroke-width="0.8"/>
<circle cx="32" cy="527" r="3.6" fill="none" stroke="#999" stroke-width="0.8"/>
<path d="M32,522.8 L33.11,525.47 L35.99,525.7 L33.8,527.58 L34.47,530.4 L32,528.89 L29.53,530.4 L30.2,527.58 L28.01,525.7 L30.89,525.47 Z" fill="none" stroke="#999" stroke-width="0.8" stroke-linejoin="miter"/>
</g>
<path d="M65.17,465.53 L66.3,468.26 L69.26,468.5 L67.01,470.43 L67.69,473.31 L65.17,471.76 L62.64,473.31 L63.33,470.43 L61.08,468.5 L64.03,468.26 Z" fill="#fff" stroke="#222" stroke-width="0.9" stroke-linejoin="miter"/>
<line x1="65.17" y1="466.06" x2="65.17" y2="473.59" stroke="#222" stroke-width="0.7" />
<line x1="62.87" y1="466.06" x2="67.47" y2="466.06" stroke="#222" stroke-width="0.7" />
<line x1="62.87" y1="473.59" x2="67.47" y2="473.59" stroke="#222" stroke-width="0.7" />
<path d="M78.43,445.8 L79.57,448.54 L82.52,448.78 L80.27,450.7 L80.96,453.58 L78.43,452.04 L75.91,453.58 L76.59,450.7 L74.34,448.78 L77.3,448.54 Z" fill="#fff" stroke="#222" stroke-width="0.9" stroke-linejoin="miter"/>
<line x1="78.43" y1="444.12" x2="78.43" y2="456.09" stroke="#222" stroke-width="0.7" />
<line x1="76.13" y1="444.12" x2="80.73" y2="444.12" stroke="#222" stroke-width="0.7" />
<line x1="76.13" y1="456.09" x2="80.73" y2="456.09" stroke="#222" stroke-width="0.7" />
<path d="M98.33,400.38 L99.47,403.11 L102.42,403.35 L100.17,405.27 L100.86,408.16 L98.33,406.61 L95.81,408.16 L96.49,405.27 L94.24,403.35 L97.2,403.11 Z" fill="#fff" stroke="#222" stroke-width="0.9" stroke-linejoin="miter"/>
<line x1="98.33" y1="398.03" x2="98.33" y2="411.32" stroke="#222" stroke-width="0.7" />
<line x1="96.03" y1="398.03" x2="100.63" y2="398.03" stroke="#222" stroke-width="0.7" />
<line x1="96.03" y1="411.32" x2="100.63" y2="411.32" stroke="#222" stroke-width="0.7" />
<path d="M131.5,354.51 L132.64,357.24 L135.59,357.48 L133.34,359.4 L134.03,362.28 L131.5,360.74 L128.97,362.28 L129.66,359.4 L127.41,357.48 L130.36,357.24 Z" fill="#fff" stroke="#222" stroke-width="0.9" stroke-linejoin="miter"/>
<line x1="131.5" y1="353.27" x2="131.5" y2="364.35" stroke="#222" stroke-width="0.7" />
<line x1="129.2" y1="353.27" x2="133.8" y2="353.27" stroke="#222" stroke-width="0.7" />
<line x1="129.2" y1="364.35" x2="133.8" y2="364.35" stroke="#222" stroke-width="0.7" />
<path d="M164.67,324.81 L165.8,327.55 L168.76,327.78 L166.51,329.71 L167.19,332.59 L164.67,331.05 L162.14,332.59 L162.83,329.71 L160.58,327.78 L163.53,327.55 Z" fill="#fff" stroke="#222" stroke-width="0.9" stroke-linejoin="miter"/>
<line x1="164.67" y1="326.23" x2="164.67" y2="331.99" stroke="#222" stroke-width="0.7" />
<line x1="162.37" y1="326.23" x2="166.97" y2="326.23" stroke="#222" stroke-width="0.7" />
<line x1="162.37" y1="331.99" x2="166.97" y2="331.99" stroke="#222" stroke-width="0.7" />
<path d="M231,317.28 L232.14,320.01 L235.09,320.25 L232.84,322.17 L233.53,325.06 L231,323.51 L228.47,325.06 L229.16,322.17 L226.91,320.25 L229.86,320.01 Z" fill="#fff" stroke="#222" stroke-width="0.9" stroke-linejoin="miter"/>
<line x1="231" y1="319.36" x2="231" y2="323.79" stroke="#222" stroke-width="0.7" />
<line x1="228.7" y1="319.36" x2="233.3" y2="319.36" stroke="#222" stroke-width="0.7" />
<line x1="228.7" y1="323.79" x2="233.3" y2="323.79" stroke="#222" stroke-width="0.7" />
<path d="M297.33,309.52 L298.47,312.26 L301.42,312.49 L299.17,314.42 L299.86,317.3 L297.33,315.76 L294.81,317.3 L295.49,314.42 L293.24,312.49 L296.2,312.26 Z" fill="#fff" stroke="#222" stroke-width="0.9" stroke-linejoin="miter"/>
<line x1="297.33" y1="312.49" x2="297.33" y2="315.15" stroke="#222" stroke-width="0.7" />
<line x1="295.03" y1="312.49" x2="299.63" y2="312.49" stroke="#222" stroke-width="0.7" />
<line x1="295.03" y1="315.15" x2="299.63" y2="315.15" stroke="#222" stroke-width="0.7" />
<circle cx="65.17" cy="515.48" r="3.7" fill="#fff" stroke="#222" stroke-width="0.85"/>
<line x1="65.17" y1="512.82" x2="65.17" y2="518.14" stroke="#222" stroke-width="0.6" />
<line x1="63.57" y1="512.82" x2="66.77" y2="512.82" stroke="#222" stroke-width="0.6" />
<line x1="63.57" y1="518.14" x2="66.77" y2="518.14" stroke="#222" stroke-width="0.6" />
<circle cx="78.43" cy="510.6" r="3.7" fill="#fff" stroke="#222" stroke-width="0.85"/>
<line x1="78.43" y1="507.94" x2="78.43" y2="513.26" stroke="#222" stroke-width="0.6" />
<line x1="76.83" y1="507.94" x2="80.03" y2="507.94" stroke="#222" stroke-width="0.6" />
<line x1="76.83" y1="513.26" x2="80.03" y2="513.26" stroke="#222" stroke-width="0.6" />
<circle cx="98.33" cy="463.84" r="3.7" fill="#fff" stroke="#222" stroke-width="0.85"/>
<line x1="98.33" y1="461.18" x2="98.33" y2="466.5" stroke="#222" stroke-width="0.6" />
<line x1="96.73" y1="461.18" x2="99.93" y2="461.18" stroke="#222" stroke-width="0.6" />
<line x1="96.73" y1="466.5" x2="99.93" y2="466.5" stroke="#222" stroke-width="0.6" />
<circle cx="131.5" cy="421.52" r="3.7" fill="#fff" stroke="#222" stroke-width="0.85"/>
<line x1="131.5" y1="418.86" x2="131.5" y2="424.18" stroke="#222" stroke-width="0.6" />
<line x1="129.9" y1="418.86" x2="133.1" y2="418.86" stroke="#222" stroke-width="0.6" />
<line x1="129.9" y1="424.18" x2="133.1" y2="424.18" stroke="#222" stroke-width="0.6" />
<circle cx="164.67" cy="406.01" r="3.7" fill="#fff" stroke="#222" stroke-width="0.85"/>
<line x1="164.67" y1="403.35" x2="164.67" y2="408.67" stroke="#222" stroke-width="0.6" />
<line x1="163.07" y1="403.35" x2="166.27" y2="403.35" stroke="#222" stroke-width="0.6" />
<line x1="163.07" y1="408.67" x2="166.27" y2="408.67" stroke="#222" stroke-width="0.6" />
<circle cx="231" cy="430.38" r="3.7" fill="#fff" stroke="#222" stroke-width="0.85"/>
<line x1="231" y1="427.72" x2="231" y2="433.04" stroke="#222" stroke-width="0.6" />
<line x1="229.4" y1="427.72" x2="232.6" y2="427.72" stroke="#222" stroke-width="0.6" />
<line x1="229.4" y1="433.04" x2="232.6" y2="433.04" stroke="#222" stroke-width="0.6" />
<circle cx="297.33" cy="436.81" r="3.7" fill="#fff" stroke="#222" stroke-width="0.85"/>
<line x1="297.33" y1="434.15" x2="297.33" y2="439.47" stroke="#222" stroke-width="0.6" />
<line x1="295.73" y1="434.15" x2="298.93" y2="434.15" stroke="#222" stroke-width="0.6" />
<line x1="295.73" y1="439.47" x2="298.93" y2="439.47" stroke="#222" stroke-width="0.6" />
<path d="M65.17,503.07 L60.67,510.72 L69.67,510.72 Z" fill="#fff" stroke="#222" stroke-width="0.8"/>
<line x1="65.17" y1="503.95" x2="65.17" y2="510.6" stroke="#222" stroke-width="0.6" />
<line x1="63.67" y1="503.95" x2="66.67" y2="503.95" stroke="#222" stroke-width="0.6" />
<line x1="63.67" y1="510.6" x2="66.67" y2="510.6" stroke="#222" stroke-width="0.6" />
<path d="M78.43,493.1 L73.93,500.75 L82.93,500.75 Z" fill="#fff" stroke="#222" stroke-width="0.8"/>
<line x1="78.43" y1="493.98" x2="78.43" y2="500.63" stroke="#222" stroke-width="0.6" />
<line x1="76.93" y1="493.98" x2="79.93" y2="493.98" stroke="#222" stroke-width="0.6" />
<line x1="76.93" y1="500.63" x2="79.93" y2="500.63" stroke="#222" stroke-width="0.6" />
<path d="M98.33,488 L93.83,495.65 L102.83,495.65 Z" fill="#fff" stroke="#222" stroke-width="0.8"/>
<line x1="98.33" y1="488.88" x2="98.33" y2="495.53" stroke="#222" stroke-width="0.6" />
<line x1="96.83" y1="488.88" x2="99.83" y2="488.88" stroke="#222" stroke-width="0.6" />
<line x1="96.83" y1="495.53" x2="99.83" y2="495.53" stroke="#222" stroke-width="0.6" />
<path d="M131.5,498.42 L127,506.07 L136,506.07 Z" fill="#fff" stroke="#222" stroke-width="0.8"/>
<line x1="131.5" y1="499.3" x2="131.5" y2="505.95" stroke="#222" stroke-width="0.6" />
<line x1="130" y1="499.3" x2="133" y2="499.3" stroke="#222" stroke-width="0.6" />
<line x1="130" y1="505.95" x2="133" y2="505.95" stroke="#222" stroke-width="0.6" />
<path d="M164.67,510.83 L160.17,518.48 L169.17,518.48 Z" fill="#fff" stroke="#222" stroke-width="0.8"/>
<line x1="164.67" y1="511.71" x2="164.67" y2="518.36" stroke="#222" stroke-width="0.6" />
<line x1="163.17" y1="511.71" x2="166.17" y2="511.71" stroke="#222" stroke-width="0.6" />
<line x1="163.17" y1="518.36" x2="166.17" y2="518.36" stroke="#222" stroke-width="0.6" />
<path d="M231,513.49 L226.5,521.14 L235.5,521.14 Z" fill="#fff" stroke="#222" stroke-width="0.8"/>
<line x1="231" y1="514.37" x2="231" y2="521.02" stroke="#222" stroke-width="0.6" />
<line x1="229.5" y1="514.37" x2="232.5" y2="514.37" stroke="#222" stroke-width="0.6" />
<line x1="229.5" y1="521.02" x2="232.5" y2="521.02" stroke="#222" stroke-width="0.6" />
<path d="M297.33,518.14 L292.83,525.79 L301.83,525.79 Z" fill="#fff" stroke="#222" stroke-width="0.8"/>
<line x1="297.33" y1="519.02" x2="297.33" y2="525.67" stroke="#222" stroke-width="0.6" />
<line x1="295.83" y1="519.02" x2="298.83" y2="519.02" stroke="#222" stroke-width="0.6" />
<line x1="295.83" y1="525.67" x2="298.83" y2="525.67" stroke="#222" stroke-width="0.6" />
<line x1="34.2" y1="312" x2="55.6" y2="312" stroke="#888" stroke-width="1.3" />
<path d="M45,306.6 L46.32,309.78 L49.76,310.05 L47.14,312.3 L47.94,315.65 L45,313.85 L42.06,315.65 L42.86,312.3 L40.24,310.05 L43.68,309.78 Z" fill="#fff" stroke="#222" stroke-width="0.8" stroke-linejoin="miter"/>
<line x1="34.2" y1="324.2" x2="55.6" y2="324.2" stroke="#333" stroke-width="0.8" stroke-dasharray="2,2"/>
<circle cx="45" cy="323.5" r="4.9" fill="#fff" stroke="#222" stroke-width="0.8"/>
<line x1="34.2" y1="336.4" x2="55.6" y2="336.4" stroke="#222" stroke-width="0.8" />
<path d="M45,329.82 L40,338.32 L50,338.32 Z" fill="#fff" stroke="#222" stroke-width="0.8"/>
<text id="t17" transform="translate(58.32,315.4) scale(0.9983,1)" font-size="9.5" font-weight="bold" fill="#111">glucose conversion</text>
<text id="t18" transform="translate(58.31,327) scale(1.0024,1)" font-size="9.5" font-weight="bold" fill="#111">HMF yield</text>
<text id="t19" transform="translate(58.31,338.8) scale(1.0001,1)" font-size="9.5" font-weight="bold" fill="#111">fructose yield</text>
<rect x="384.5" y="304.5" width="298" height="222" fill="none" stroke="#1a1a1a" stroke-width="1.3"/>
<line x1="384.5" y1="514.82" x2="387.3" y2="514.82" stroke="#1a1a1a" stroke-width="1.1" />
<line x1="384.5" y1="491.45" x2="389.1" y2="491.45" stroke="#1a1a1a" stroke-width="1.1" />
<text x="378.9" y="495.05" font-size="10" font-weight="bold" text-anchor="end" >20</text>
<line x1="384.5" y1="468.08" x2="387.3" y2="468.08" stroke="#1a1a1a" stroke-width="1.1" />
<line x1="384.5" y1="444.71" x2="389.1" y2="444.71" stroke="#1a1a1a" stroke-width="1.1" />
<text x="378.9" y="448.31" font-size="10" font-weight="bold" text-anchor="end" >40</text>
<line x1="384.5" y1="421.34" x2="387.3" y2="421.34" stroke="#1a1a1a" stroke-width="1.1" />
<line x1="384.5" y1="397.97" x2="389.1" y2="397.97" stroke="#1a1a1a" stroke-width="1.1" />
<text x="378.9" y="401.57" font-size="10" font-weight="bold" text-anchor="end" >60</text>
<line x1="384.5" y1="374.61" x2="387.3" y2="374.61" stroke="#1a1a1a" stroke-width="1.1" />
<line x1="384.5" y1="351.24" x2="389.1" y2="351.24" stroke="#1a1a1a" stroke-width="1.1" />
<text x="378.9" y="354.84" font-size="10" font-weight="bold" text-anchor="end" >80</text>
<line x1="384.5" y1="327.87" x2="387.3" y2="327.87" stroke="#1a1a1a" stroke-width="1.1" />
<line x1="384.5" y1="304.5" x2="389.1" y2="304.5" stroke="#1a1a1a" stroke-width="1.1" />
<text x="378.9" y="308.1" font-size="10" font-weight="bold" text-anchor="end" >100</text>
<line x1="384.5" y1="526.5" x2="384.5" y2="522" stroke="#1a1a1a" stroke-width="1.1" />
<text x="384.5" y="540" font-size="10" font-weight="bold" text-anchor="middle" >0.0</text>
<line x1="411.59" y1="526.5" x2="411.59" y2="523.7" stroke="#1a1a1a" stroke-width="1.1" />
<line x1="438.68" y1="526.5" x2="438.68" y2="522" stroke="#1a1a1a" stroke-width="1.1" />
<text x="438.68" y="540" font-size="10" font-weight="bold" text-anchor="middle" >0.1</text>
<line x1="465.77" y1="526.5" x2="465.77" y2="523.7" stroke="#1a1a1a" stroke-width="1.1" />
<line x1="492.86" y1="526.5" x2="492.86" y2="522" stroke="#1a1a1a" stroke-width="1.1" />
<text x="492.86" y="540" font-size="10" font-weight="bold" text-anchor="middle" >0.2</text>
<line x1="519.95" y1="526.5" x2="519.95" y2="523.7" stroke="#1a1a1a" stroke-width="1.1" />
<line x1="547.05" y1="526.5" x2="547.05" y2="522" stroke="#1a1a1a" stroke-width="1.1" />
<text x="547.05" y="540" font-size="10" font-weight="bold" text-anchor="middle" >0.3</text>
<line x1="574.14" y1="526.5" x2="574.14" y2="523.7" stroke="#1a1a1a" stroke-width="1.1" />
<line x1="601.23" y1="526.5" x2="601.23" y2="522" stroke="#1a1a1a" stroke-width="1.1" />
<text x="601.23" y="540" font-size="10" font-weight="bold" text-anchor="middle" >0.4</text>
<line x1="628.32" y1="526.5" x2="628.32" y2="523.7" stroke="#1a1a1a" stroke-width="1.1" />
<line x1="655.41" y1="526.5" x2="655.41" y2="522" stroke="#1a1a1a" stroke-width="1.1" />
<text x="655.41" y="540" font-size="10" font-weight="bold" text-anchor="middle" >0.5</text>
<line x1="682.5" y1="526.5" x2="682.5" y2="523.7" stroke="#1a1a1a" stroke-width="1.1" />
<text id="t20" transform="translate(456.86,551.8) scale(1.0843,1)" font-size="10.5" font-weight="bold" fill="#111">NaCl addition (g</text>
<text id="t21" transform="translate(544.92,556.2) scale(0.9822,1)" font-size="6" font-weight="bold" fill="#111">NaCl</text>
<text id="t22" transform="translate(558.11,551.8) scale(1.2509,1)" font-size="10.5" font-weight="bold" fill="#111">/g</text>
<text id="t23" transform="translate(570.1,556.2) scale(1.1385,1)" font-size="6" font-weight="bold" fill="#111">aq.solution</text>
<text id="t24" transform="translate(606.6,551.8) scale(1.0000,1)" font-size="10.5" font-weight="bold" fill="#111">)</text>
<text id="t25" transform="translate(362.6,499.09) rotate(-90) scale(1.0393,1)" font-size="11" font-weight="bold" fill="#111">Conversion or yield (mol %)</text>
<text id="t26" transform="translate(667.09,326.5) scale(1.1954,1)" font-size="17" font-weight="normal" fill="#111">d</text>
<clipPath id="clipd"><rect x="384.5" y="304.5" width="298.0" height="222.0"/></clipPath>
<path d="M384.50,388.30 L385.86,387.41 L387.22,386.53 L388.58,385.66 L389.95,384.78 L391.31,383.92 L392.67,383.06 L394.03,382.20 L395.39,381.35 L396.75,380.51 L398.11,379.67 L399.47,378.84 L400.84,378.01 L402.20,377.19 L403.56,376.37 L404.92,375.56 L406.28,374.76 L407.64,373.96 L409.00,373.17 L410.37,372.38 L411.73,371.60 L413.09,370.83 L414.45,370.06 L415.81,369.30 L417.17,368.54 L418.53,367.79 L419.90,367.05 L421.26,366.31 L422.62,365.58 L423.98,364.85 L425.34,364.13 L426.70,363.42 L428.06,362.71 L429.42,362.01 L430.79,361.32 L432.15,360.63 L433.51,359.95 L434.87,359.27 L436.23,358.60 L437.59,357.94 L438.95,357.29 L440.32,356.64 L441.68,355.99 L443.04,355.36 L444.40,354.73 L445.76,354.10 L447.12,353.49 L448.48,352.88 L449.84,352.28 L451.21,351.68 L452.57,351.09 L453.93,350.51 L455.29,349.93 L456.65,349.36 L458.01,348.80 L459.37,348.24 L460.74,347.69 L462.10,347.15 L463.46,346.62 L464.82,346.09 L466.18,345.57 L467.54,345.05 L468.90,344.54 L470.27,344.04 L471.63,343.55 L472.99,343.07 L474.35,342.59 L475.71,342.11 L477.07,341.65 L478.43,341.19 L479.79,340.74 L481.16,340.30 L482.52,339.86 L483.88,339.43 L485.24,339.01 L486.60,338.59 L487.96,338.19 L489.32,337.79 L490.69,337.39 L492.05,337.01 L493.41,336.63 L494.77,336.26 L496.13,335.90 L497.49,335.54 L498.85,335.19 L500.21,334.85 L501.58,334.52 L502.94,334.19 L504.30,333.87 L505.66,333.56 L507.02,333.26 L508.38,332.96 L509.74,332.67 L511.11,332.39 L512.47,332.11 L513.83,331.85 L515.19,331.59 L516.55,331.34 L517.91,331.09 L519.27,330.86 L520.64,330.63 L522.00,330.41 L523.36,330.20 L524.72,329.99 L526.08,329.79 L527.44,329.60 L528.80,329.42 L530.16,329.25 L531.53,329.08 L532.89,328.92 L534.25,328.77 L535.61,328.62 L536.97,328.49 L538.33,328.36 L539.69,328.24 L541.06,328.13 L542.42,328.02 L543.78,327.92 L545.14,327.83 L546.50,327.75 L547.86,327.68 L549.22,327.61 L550.58,327.56 L551.95,327.51 L553.31,327.46 L554.67,327.43 L556.03,327.40 L557.39,327.38 L558.75,327.37 L560.11,327.37 L561.48,327.38 L562.84,327.39 L564.20,327.41 L565.56,327.44 L566.92,327.48 L568.28,327.52 L569.64,327.57 L571.01,327.64 L572.37,327.70 L573.73,327.78 L575.09,327.87 L576.45,327.96 L577.81,328.06 L579.17,328.17 L580.53,328.28 L581.90,328.41 L583.26,328.54 L584.62,328.68 L585.98,328.83 L587.34,328.99 L588.70,329.15 L590.06,329.32 L591.43,329.50 L592.79,329.69 L594.15,329.89 L595.51,330.09 L596.87,330.30 L598.23,330.52 L599.59,330.75 L600.96,330.99 L602.32,331.23 L603.68,331.49 L605.04,331.75 L606.40,332.02 L607.76,332.29 L609.12,332.58 L610.48,332.87 L611.85,333.17 L613.21,333.48 L614.57,333.79 L615.93,334.12 L617.29,334.45 L618.65,334.79 L620.01,335.14 L621.38,335.50 L622.74,335.86 L624.10,336.23 L625.46,336.61 L626.82,337.00 L628.18,337.40 L629.54,337.80 L630.90,338.21 L632.27,338.63 L633.63,339.06 L634.99,339.50 L636.35,339.94 L637.71,340.39 L639.07,340.85 L640.43,341.32 L641.80,341.80 L643.16,342.28 L644.52,342.77 L645.88,343.27 L647.24,343.78 L648.60,344.30 L649.96,344.82 L651.33,345.35 L652.69,345.89 L654.05,346.43 L655.41,346.99" fill="none" stroke="#222" stroke-width="0.95"/>
<path d="M384.50,516.96 L385.86,515.66 L387.22,514.37 L388.58,513.10 L389.95,511.82 L391.31,510.56 L392.67,509.31 L394.03,508.06 L395.39,506.82 L396.75,505.59 L398.11,504.37 L399.47,503.16 L400.84,501.95 L402.20,500.76 L403.56,499.57 L404.92,498.39 L406.28,497.22 L407.64,496.05 L409.00,494.90 L410.37,493.75 L411.73,492.61 L413.09,491.48 L414.45,490.36 L415.81,489.24 L417.17,488.14 L418.53,487.04 L419.90,485.95 L421.26,484.87 L422.62,483.80 L423.98,482.73 L425.34,481.68 L426.70,480.63 L428.06,479.59 L429.42,478.56 L430.79,477.54 L432.15,476.52 L433.51,475.52 L434.87,474.52 L436.23,473.53 L437.59,472.55 L438.95,471.58 L440.32,470.61 L441.68,469.66 L443.04,468.71 L444.40,467.77 L445.76,466.84 L447.12,465.92 L448.48,465.01 L449.84,464.10 L451.21,463.20 L452.57,462.32 L453.93,461.44 L455.29,460.56 L456.65,459.70 L458.01,458.85 L459.37,458.00 L460.74,457.16 L462.10,456.33 L463.46,455.51 L464.82,454.70 L466.18,453.90 L467.54,453.10 L468.90,452.31 L470.27,451.53 L471.63,450.76 L472.99,450.00 L474.35,449.25 L475.71,448.51 L477.07,447.77 L478.43,447.04 L479.79,446.32 L481.16,445.61 L482.52,444.91 L483.88,444.22 L485.24,443.53 L486.60,442.86 L487.96,442.19 L489.32,441.53 L490.69,440.88 L492.05,440.24 L493.41,439.60 L494.77,438.98 L496.13,438.36 L497.49,437.75 L498.85,437.15 L500.21,436.56 L501.58,435.98 L502.94,435.41 L504.30,434.84 L505.66,434.29 L507.02,433.74 L508.38,433.20 L509.74,432.67 L511.11,432.15 L512.47,431.63 L513.83,431.13 L515.19,430.63 L516.55,430.15 L517.91,429.67 L519.27,429.20 L520.64,428.73 L522.00,428.28 L523.36,427.84 L524.72,427.40 L526.08,426.98 L527.44,426.56 L528.80,426.15 L530.16,425.75 L531.53,425.35 L532.89,424.97 L534.25,424.60 L535.61,424.23 L536.97,423.87 L538.33,423.52 L539.69,423.18 L541.06,422.85 L542.42,422.53 L543.78,422.22 L545.14,421.91 L546.50,421.62 L547.86,421.33 L549.22,421.05 L550.58,420.78 L551.95,420.52 L553.31,420.27 L554.67,420.02 L556.03,419.79 L557.39,419.56 L558.75,419.34 L560.11,419.14 L561.48,418.94 L562.84,418.74 L564.20,418.56 L565.56,418.39 L566.92,418.22 L568.28,418.07 L569.64,417.92 L571.01,417.78 L572.37,417.65 L573.73,417.53 L575.09,417.42 L576.45,417.32 L577.81,417.22 L579.17,417.14 L580.53,417.06 L581.90,417.00 L583.26,416.94 L584.62,416.89 L585.98,416.85 L587.34,416.81 L588.70,416.79 L590.06,416.78 L591.43,416.77 L592.79,416.78 L594.15,416.79 L595.51,416.81 L596.87,416.84 L598.23,416.88 L599.59,416.93 L600.96,416.98 L602.32,417.05 L603.68,417.12 L605.04,417.21 L606.40,417.30 L607.76,417.40 L609.12,417.51 L610.48,417.63 L611.85,417.76 L613.21,417.90 L614.57,418.05 L615.93,418.20 L617.29,418.37 L618.65,418.54 L620.01,418.72 L621.38,418.91 L622.74,419.11 L624.10,419.32 L625.46,419.54 L626.82,419.77 L628.18,420.00 L629.54,420.25 L630.90,420.50 L632.27,420.77 L633.63,421.04 L634.99,421.32 L636.35,421.61 L637.71,421.91 L639.07,422.22 L640.43,422.54 L641.80,422.87 L643.16,423.20 L644.52,423.55 L645.88,423.90 L647.24,424.26 L648.60,424.64 L649.96,425.02 L651.33,425.41 L652.69,425.81 L654.05,426.22 L655.41,426.63" fill="none" stroke="#222" stroke-width="0.95" stroke-dasharray="3.2,2.2"/>
<g clip-path="url(#clipd)">
<line x1="384.5" y1="383.25" x2="384.5" y2="387.93" stroke="#333" stroke-width="0.6" />
<path d="M384.5,381.09 L385.69,383.95 L388.78,384.2 L386.43,386.21 L387.15,389.23 L384.5,387.61 L381.85,389.23 L382.57,386.21 L380.22,384.2 L383.31,383.95 Z" fill="none" stroke="#222" stroke-width="0.95" stroke-linejoin="miter"/>
<line x1="411.59" y1="378.58" x2="411.59" y2="380.91" stroke="#333" stroke-width="0.6" />
<path d="M411.59,375.25 L412.78,378.11 L415.87,378.36 L413.52,380.37 L414.24,383.39 L411.59,381.77 L408.95,383.39 L409.67,380.37 L407.31,378.36 L410.4,378.11 Z" fill="none" stroke="#222" stroke-width="0.95" stroke-linejoin="miter"/>
<line x1="438.68" y1="345.86" x2="438.68" y2="352.87" stroke="#333" stroke-width="0.6" />
<line x1="436.48" y1="345.86" x2="440.88" y2="345.86" stroke="#333" stroke-width="0.6" />
<line x1="436.48" y1="352.87" x2="440.88" y2="352.87" stroke="#333" stroke-width="0.6" />
<path d="M438.68,344.87 L439.87,347.73 L442.96,347.98 L440.61,349.99 L441.33,353.01 L438.68,351.39 L436.04,353.01 L436.76,349.99 L434.4,347.98 L437.49,347.73 Z" fill="none" stroke="#222" stroke-width="0.95" stroke-linejoin="miter"/>
<line x1="465.77" y1="336.28" x2="465.77" y2="347.97" stroke="#333" stroke-width="0.6" />
<line x1="463.57" y1="336.28" x2="467.97" y2="336.28" stroke="#333" stroke-width="0.6" />
<line x1="463.57" y1="347.97" x2="467.97" y2="347.97" stroke="#333" stroke-width="0.6" />
<path d="M465.77,337.62 L466.96,340.48 L470.05,340.73 L467.7,342.75 L468.42,345.76 L465.77,344.15 L463.13,345.76 L463.85,342.75 L461.49,340.73 L464.58,340.48 Z" fill="none" stroke="#222" stroke-width="0.95" stroke-linejoin="miter"/>
<line x1="492.86" y1="334.18" x2="492.86" y2="338.85" stroke="#333" stroke-width="0.6" />
<path d="M492.86,332.01 L494.05,334.88 L497.14,335.12 L494.79,337.14 L495.51,340.16 L492.86,338.54 L490.22,340.16 L490.94,337.14 L488.58,335.12 L491.67,334.88 Z" fill="none" stroke="#222" stroke-width="0.95" stroke-linejoin="miter"/>
<line x1="547.05" y1="337.68" x2="547.05" y2="349.37" stroke="#333" stroke-width="0.6" />
<line x1="544.85" y1="337.68" x2="549.25" y2="337.68" stroke="#333" stroke-width="0.6" />
<line x1="544.85" y1="349.37" x2="549.25" y2="349.37" stroke="#333" stroke-width="0.6" />
<path d="M547.05,339.03 L548.24,341.89 L551.33,342.13 L548.97,344.15 L549.69,347.17 L547.05,345.55 L544.4,347.17 L545.12,344.15 L542.77,342.13 L545.86,341.89 Z" fill="none" stroke="#222" stroke-width="0.95" stroke-linejoin="miter"/>
<line x1="601.23" y1="326.7" x2="601.23" y2="331.37" stroke="#333" stroke-width="0.6" />
<path d="M601.23,324.54 L602.42,327.4 L605.51,327.65 L603.15,329.66 L603.87,332.68 L601.23,331.06 L598.58,332.68 L599.3,329.66 L596.95,327.65 L600.04,327.4 Z" fill="none" stroke="#222" stroke-width="0.95" stroke-linejoin="miter"/>
<line x1="628.32" y1="333.94" x2="628.32" y2="340.95" stroke="#333" stroke-width="0.6" />
<line x1="626.12" y1="333.94" x2="630.52" y2="333.94" stroke="#333" stroke-width="0.6" />
<line x1="626.12" y1="340.95" x2="630.52" y2="340.95" stroke="#333" stroke-width="0.6" />
<path d="M628.32,332.95 L629.51,335.81 L632.6,336.06 L630.24,338.08 L630.96,341.09 L628.32,339.47 L625.67,341.09 L626.39,338.08 L624.04,336.06 L627.13,335.81 Z" fill="none" stroke="#222" stroke-width="0.95" stroke-linejoin="miter"/>
<line x1="655.41" y1="350.3" x2="655.41" y2="359.65" stroke="#333" stroke-width="0.6" />
<line x1="653.21" y1="350.3" x2="657.61" y2="350.3" stroke="#333" stroke-width="0.6" />
<line x1="653.21" y1="359.65" x2="657.61" y2="359.65" stroke="#333" stroke-width="0.6" />
<path d="M655.41,350.48 L656.6,353.34 L659.69,353.59 L657.33,355.6 L658.05,358.62 L655.41,357 L652.76,358.62 L653.48,355.6 L651.13,353.59 L654.22,353.34 Z" fill="none" stroke="#222" stroke-width="0.95" stroke-linejoin="miter"/>
<circle cx="384.5" cy="513.65" r="4.4" fill="none" stroke="#222" stroke-width="0.8"/>
<line x1="384.5" y1="510.14" x2="384.5" y2="517.15" stroke="#555" stroke-width="0.55" />
<circle cx="411.59" cy="499.39" r="4.4" fill="none" stroke="#222" stroke-width="0.8"/>
<line x1="411.59" y1="495.89" x2="411.59" y2="502.9" stroke="#555" stroke-width="0.55" />
<circle cx="438.68" cy="480.23" r="4.4" fill="none" stroke="#222" stroke-width="0.8"/>
<line x1="438.68" y1="475.56" x2="438.68" y2="484.9" stroke="#555" stroke-width="0.55" />
<line x1="436.68" y1="475.56" x2="440.68" y2="475.56" stroke="#555" stroke-width="0.55" />
<line x1="436.68" y1="484.9" x2="440.68" y2="484.9" stroke="#555" stroke-width="0.55" />
<circle cx="465.77" cy="449.38" r="4.4" fill="none" stroke="#222" stroke-width="0.8"/>
<line x1="465.77" y1="445.88" x2="465.77" y2="452.89" stroke="#555" stroke-width="0.55" />
<circle cx="492.86" cy="438.4" r="4.4" fill="none" stroke="#222" stroke-width="0.8"/>
<line x1="492.86" y1="434.9" x2="492.86" y2="441.91" stroke="#555" stroke-width="0.55" />
<circle cx="547.05" cy="426.72" r="4.4" fill="none" stroke="#222" stroke-width="0.8"/>
<line x1="547.05" y1="423.21" x2="547.05" y2="430.22" stroke="#555" stroke-width="0.55" />
<circle cx="601.23" cy="411.06" r="4.4" fill="none" stroke="#222" stroke-width="0.8"/>
<line x1="601.23" y1="407.55" x2="601.23" y2="414.57" stroke="#555" stroke-width="0.55" />
<circle cx="628.32" cy="420.41" r="4.4" fill="none" stroke="#222" stroke-width="0.8"/>
<line x1="628.32" y1="416.9" x2="628.32" y2="423.91" stroke="#555" stroke-width="0.55" />
<circle cx="655.41" cy="432.56" r="4.4" fill="none" stroke="#222" stroke-width="0.8"/>
<line x1="655.41" y1="427.89" x2="655.41" y2="437.23" stroke="#555" stroke-width="0.55" />
<line x1="653.41" y1="427.89" x2="657.41" y2="427.89" stroke="#555" stroke-width="0.55" />
<line x1="653.41" y1="437.23" x2="657.41" y2="437.23" stroke="#555" stroke-width="0.55" />
</g>
<rect x="532.5" y="487.5" width="147.8" height="27.8" fill="#fff" stroke="#999" stroke-width="0.8"/>
<path d="M552,490.8 L553.3,493.92 L556.66,494.19 L554.1,496.38 L554.88,499.66 L552,497.9 L549.12,499.66 L549.9,496.38 L547.34,494.19 L550.7,493.92 Z" fill="none" stroke="#222" stroke-width="0.85" stroke-linejoin="miter"/>
<circle cx="552" cy="510.1" r="4.3" fill="none" stroke="#222" stroke-width="0.85"/>
<circle cx="552" cy="510.1" r="0.5" fill="#444" stroke="#222" stroke-width="0.3"/>
<text id="t27" transform="translate(568.46,499.2) scale(1.1041,1)" font-size="10.3" font-weight="bold" fill="#111">Glucose conversion</text>
<text id="t28" transform="translate(568.46,513.3) scale(1.1078,1)" font-size="10.3" font-weight="bold" fill="#111">HMF yield</text>
</svg></body></html>
